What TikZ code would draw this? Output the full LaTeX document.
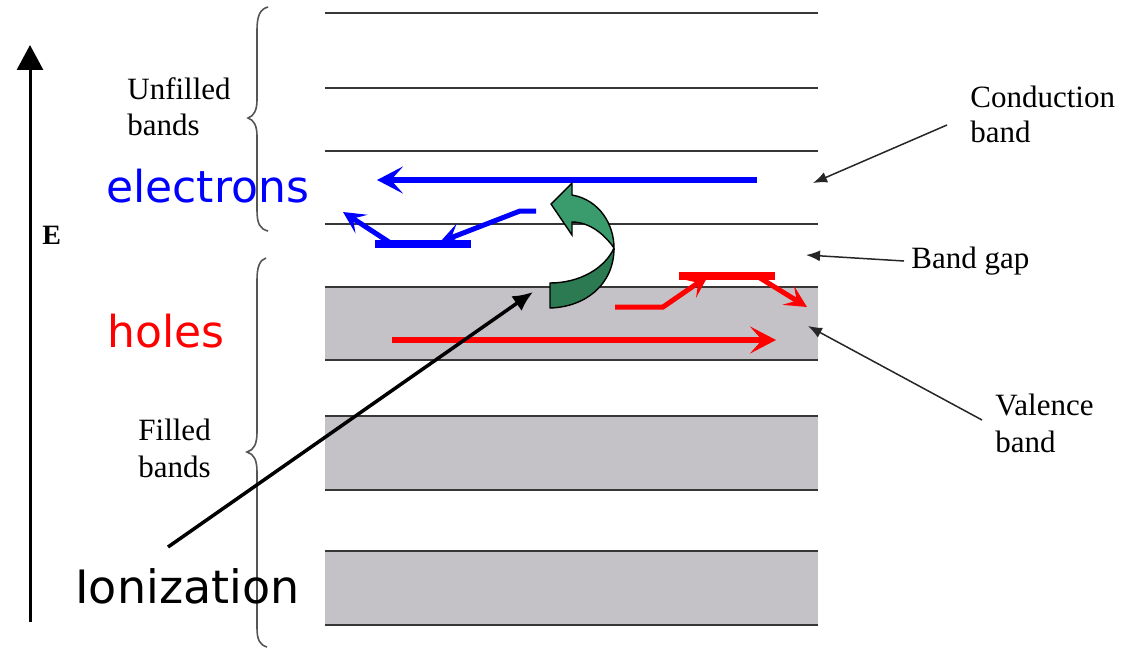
\documentclass[tikz,border=0pt]{standalone}
\usepackage{fontspec}
\setmainfont{Liberation Serif}
\newfontfamily\comicf{DejaVu Sans}
\usetikzlibrary{arrows.meta}
\definecolor{bandgray}{RGB}{196,194,198}
\definecolor{lineg}{RGB}{55,55,55}
\definecolor{braceg}{RGB}{85,85,85}
\definecolor{lgreen}{RGB}{58,156,108}
\definecolor{dgreen}{RGB}{44,122,82}
\definecolor{myblue}{RGB}{0,0,255}
\definecolor{myred}{RGB}{255,0,0}
\begin{document}
\begin{tikzpicture}[x=0.5pt,y=-0.5pt,
  level/.style={draw=lineg,line width=0.85pt},
  bandbox/.style={fill=bandgray,draw=none},
  lbl/.style={font=\fontsize{15.5}{18}\selectfont,inner sep=0,anchor=base west},
  big/.style={font=\comicf\fontsize{22}{26}\selectfont,inner sep=0,anchor=base west},
  pointer/.style={draw=black!85,line width=0.75pt,-{Latex[length=7pt,width=5.5pt]}},
  bracepath/.style={draw=braceg,line width=0.8pt},
  carrier/.style={line width=2.8pt,-{Stealth[length=13pt,width=13.5pt,inset=6pt]}},
  hop/.style={line width=2.5pt,-{Stealth[length=11pt,width=11pt,inset=5pt]}},
  barline/.style={line width=3.7pt},
  greenarr/.style={draw=black,line width=0.7pt}
]
\useasboundingbox (0,0) rectangle (1122,647);

% bands
\foreach \t/\b [count=\i] in {287/360,416/490,551/625}{
  \fill[bandbox] (325,\t) rectangle (818,\b);
  \draw[level] (325,\t) -- (818,\t);
  \draw[level] (325,\b) -- (818,\b);
}
% empty levels
\foreach \y in {13,88,151,224}{
  \draw[level] (325,\y) -- (818,\y);
}

% energy axis
\coordinate (Ebot) at (30,622);
\coordinate (Etop) at (30,45);
\draw[line width=1.5pt,-{Triangle[length=12.5pt,width=13pt]}] (Ebot) -- (Etop);
\node[inner sep=0,anchor=base west,font=\bfseries\fontsize{14}{16}\selectfont] (E) at (42,244) {E};

% braces
\draw[bracepath] (268,7) .. controls (260,9) and (257,16) .. (257,30) -- (257,100)
  .. controls (257,110) and (254,116) .. (248,118)
  .. controls (254,120) and (257,126) .. (257,136) -- (257,210)
  .. controls (257,224) and (260,229) .. (268,231);
\draw[bracepath] (266,258) .. controls (260,260) and (257,266) .. (257,280) -- (257,432)
  .. controls (257,444) and (254,450) .. (247,452)
  .. controls (254,454) and (257,460) .. (257,472) -- (257,628)
  .. controls (257,640) and (260,645) .. (267,647);

% serif labels
\node[lbl] (unf1) at (127,99) {Unfilled};
\node[lbl] (unf2) at (127,135) {bands};
\node[lbl] (fil1) at (138,440) {Filled};
\node[lbl] (fil2) at (138,477) {bands};
\node[lbl] (cb1) at (970,107) {Conduction};
\node[lbl] (cb2) at (970,142) {band};
\node[lbl] (bg) at (911,268) {Band gap};
\node[lbl] (vb1) at (995,415) {Valence};
\node[lbl] (vb2) at (995,452) {band};

% pointers
\coordinate (cbS) at (947,125);
\coordinate (cbT) at (813,183);
\coordinate (bgS) at (904,261);
\coordinate (bgT) at (806,255);
\coordinate (vbS) at (982,420);
\coordinate (vbT) at (808,326);
\draw[pointer] (cbS) -- (cbT);
\draw[pointer] (bgS) -- (bgT);
\draw[pointer] (vbS) -- (vbT);

% big labels
\node[big,text=myblue] (el) at (106,202) {electrons};
\node[big,text=myred] (ho) at (107,347) {holes};
\node[big,text=black,font=\comicf\fontsize{23}{27}\selectfont] (io) at (75,603) {Ionization};

% blue electron arrows
\coordinate (b1s) at (757,180);
\coordinate (b1e) at (377,180);
\draw[carrier,myblue] (b1s) -- (b1e);
\coordinate (b2a) at (536,211);
\coordinate (b2b) at (520,211);
\coordinate (b2c) at (440,242);
\draw[hop,myblue] (b2a) -- (b2b) -- (b2c);
\coordinate (bbL) at (375,244);
\coordinate (bbR) at (471,244);
\draw[barline,myblue] (bbL) -- (bbR);
\coordinate (b3s) at (389,242);
\coordinate (b3e) at (343,212);
\draw[hop,myblue] (b3s) -- (b3e);

% red hole arrows
\coordinate (r2a) at (615,307);
\coordinate (r2b) at (663,307);
\coordinate (r2c) at (708,276);
\draw[hop,myred] (r2a) -- (r2b) -- (r2c);
\coordinate (rbL) at (679,276);
\coordinate (rbR) at (775,276);
\draw[barline,myred,line width=4pt] (rbL) -- (rbR);
\coordinate (r3s) at (760,278);
\coordinate (r3e) at (807,307);
\draw[hop,myred] (r3s) -- (r3e);
\coordinate (r1s) at (392,340);
\coordinate (r1e) at (776,340);
\draw[carrier,myred] (r1s) -- (r1e);

% green curved arrow
\fill[dgreen] (614,248) .. controls (614,285) and (585,307) .. (550,308) -- (550,283)
  .. controls (580,283) and (605,268) .. (614,248) -- cycle;
\draw[greenarr] (614,248) .. controls (614,285) and (585,307) .. (550,308) -- (550,283)
  .. controls (580,283) and (605,268) .. (614,248);
\filldraw[greenarr,fill=lgreen] (551,204) -- (572,183) -- (572,195)
  .. controls (600,200) and (614,225) .. (614,248)
  .. controls (605,235) and (590,222) .. (572,222) -- (572,235) -- cycle;

% ionization pointer
\coordinate (ioS) at (168,547);
\coordinate (ioT) at (533,292);
\draw[line width=1.75pt,-{Latex[length=10pt,width=9pt]}] (ioS) -- (ioT);
\end{tikzpicture}
\end{document}
